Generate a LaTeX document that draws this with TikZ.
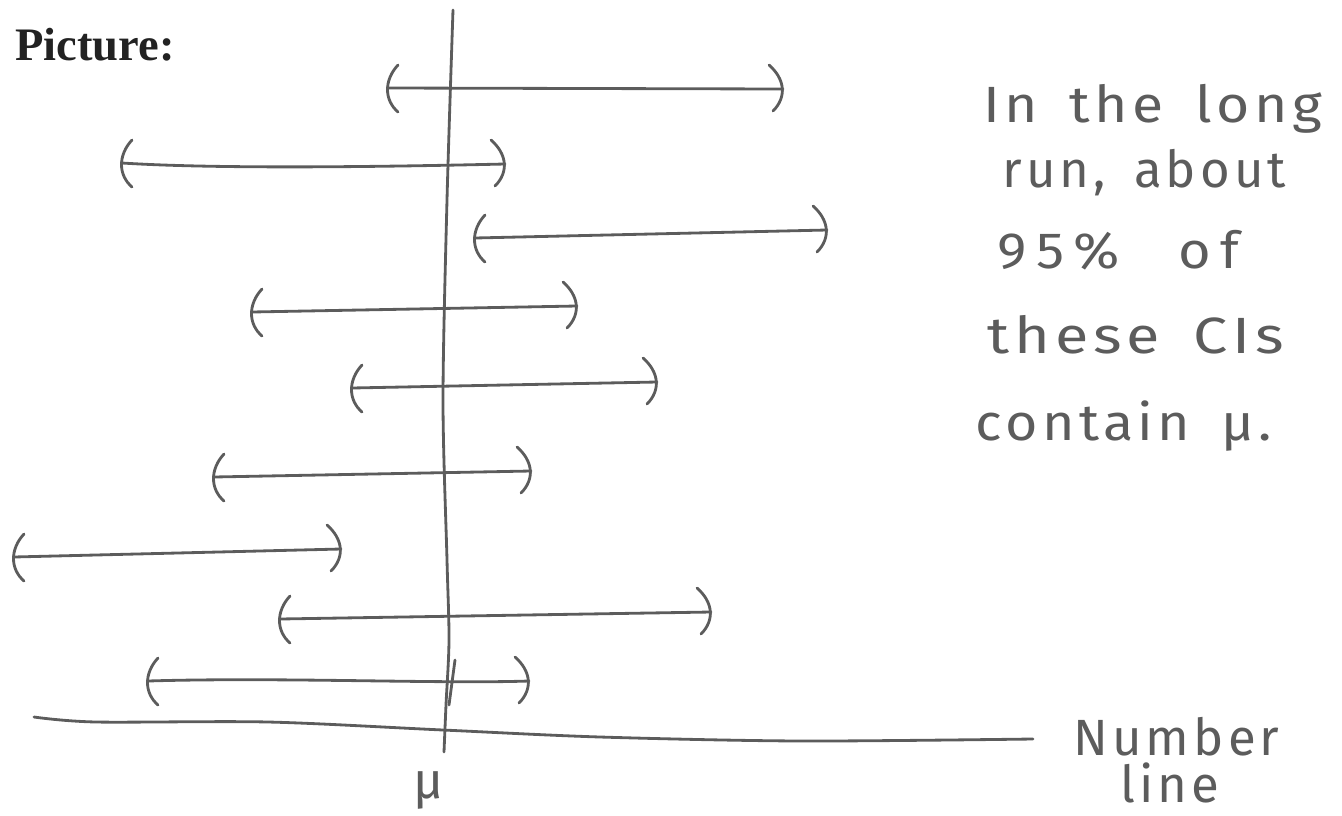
\documentclass[tikz,border=0pt]{standalone}
\usepackage{fontspec}
\setmainfont{Liberation Serif}
\newfontfamily\hand[LetterSpace=8,WordSpace=1.6]{Fira Sans}
\definecolor{ink}{RGB}{92,92,92}
\definecolor{print}{RGB}{34,34,34}
\begin{document}
\begin{tikzpicture}[x=0.02cm,y=-0.02cm,
  ink/.style={draw=ink,line width=1.6pt,line cap=round,line join=round},
  lparen/.pic={\draw[ink] (10,-23) .. controls (-4,-8) and (-4,12) .. (10,24);},
  rparen/.pic={\draw[ink] (-14,-24) .. controls (2,-10) and (4,8) .. (-10,22);},
  handtext/.style={inner sep=0pt,anchor=base west,text=ink,font=\hand\fontsize{29}{34}\selectfont}]
\useasboundingbox (0,0) rectangle (1342,815);

% title
\node[inner sep=0pt,anchor=base west,text=print,font=\bfseries\fontsize{26.5}{31}\selectfont] (title) at (15,60) {Picture:};

% vertical mu line
\draw[ink] plot[smooth,tension=0.5] coordinates {(453,10) (447,200) (443,400) (447,560) (449,640) (446,705) (444,752)};
\draw[ink] (455,660) -- (449,705);

% number line
\draw[ink] plot[smooth,tension=0.5] coordinates {(34,717) (96,722) (268,722) (443,730) (600,737) (800,741) (1033,739)};

% interval end points
\coordinate (L1) at (388,88);  \coordinate (R1) at (783,89);
\coordinate (L2) at (122,163); \coordinate (R2) at (505,164);
\coordinate (L3) at (475,238); \coordinate (R3) at (827,230);
\coordinate (L4) at (252,312); \coordinate (R4) at (577,306);
\coordinate (L5) at (352,388); \coordinate (R5) at (657,382);
\coordinate (L6) at (214,477); \coordinate (R6) at (531,471);
\coordinate (L7) at (14,557);  \coordinate (R7) at (341,549);
\coordinate (L8) at (280,619); \coordinate (R8) at (711,612);
\coordinate (L9) at (148,681); \coordinate (R9) at (529,681);

\draw[ink] (L1) -- (R1);
\draw[ink] (L2) .. controls (200,168) and (333,168) .. (R2);
\draw[ink] (L3) -- (R3);
\draw[ink] (L4) -- (R4);
\draw[ink] (L5) -- (R5);
\draw[ink] (L6) -- (R6);
\draw[ink] (L7) -- (R7);
\draw[ink] (L8) -- (R8);
\draw[ink] (L9) .. controls (280,677) and (440,684) .. (R9);

\foreach \i in {1,...,9}{
  \pic at (L\i) {lparen};
  \pic at (R\i) {rparen};
}

% handwritten note
\node[handtext] (n1) at (983,122) {\scalebox{1.12}[1]{In the long}};
\node[handtext] (n2) at (1002,187) {run, about};
\node[handtext] (n3) at (997,268) {\scalebox{1.1}[1]{9\,5\,\%\hspace{0.5em} o\,f}};
\node[handtext] (n4) at (987,353) {\scalebox{1.2}[1]{these CIs}};
\node[handtext] (n5) at (975,440) {\scalebox{1.09}[1]{contain μ.}};

% axis labels
\node[handtext] (mu) at (413,798) {μ};
\node[handtext] (nl1) at (1073,755) {Number};
\node[handtext] (nl2) at (1120,802) {line};
\end{tikzpicture}
\end{document}
